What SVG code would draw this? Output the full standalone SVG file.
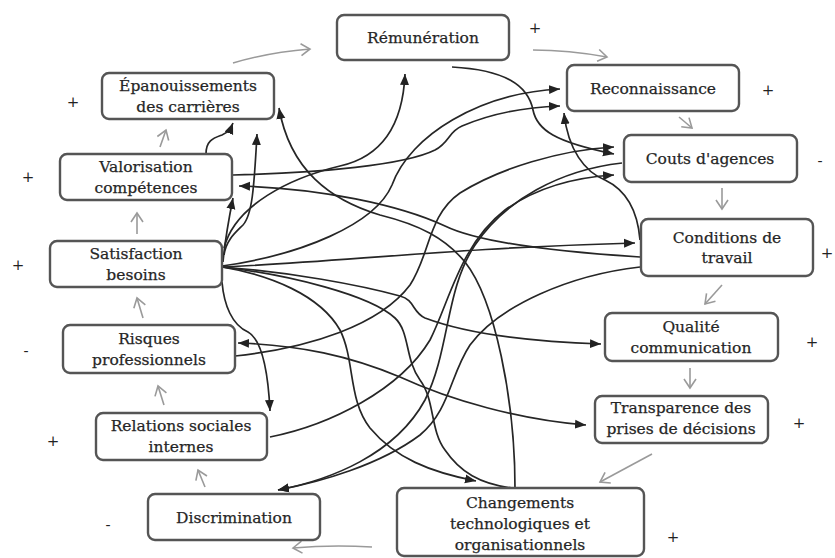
<svg xmlns="http://www.w3.org/2000/svg" width="835" height="558" viewBox="0 0 835 558">
<style>
.box{fill:#fff;stroke:#555;stroke-width:2.4}
.t{font-family:"DejaVu Serif","Liberation Serif",serif;font-size:15.5px;fill:#262626;stroke:#262626;stroke-width:0.25;text-anchor:middle}
.s{font-family:"DejaVu Serif","Liberation Serif",serif;font-size:15px;fill:#222;text-anchor:middle}
.k{fill:none;stroke:#262626;stroke-width:1.7;marker-end:url(#ah)}
.k0{fill:none;stroke:#262626;stroke-width:1.7}
.g{fill:none;stroke:#9a9a9a;stroke-width:1.6;marker-end:url(#ch)}
</style>
<defs>
<marker id="ah" viewBox="-11 -5 11 10" refX="0" refY="0" markerWidth="11" markerHeight="10" markerUnits="userSpaceOnUse" orient="auto-start-reverse">
<path d="M-11,-4.5 L0,0 L-11,4.5 Z" fill="#222"/>
</marker>
<marker id="ch" viewBox="-11 -7 13 14" refX="0" refY="0" markerWidth="13" markerHeight="14" markerUnits="userSpaceOnUse" orient="auto">
<path d="M-9,-6 L0,0 L-9,6" fill="none" stroke="#9a9a9a" stroke-width="1.6"/>
</marker>
</defs>
<rect width="835" height="558" fill="#fff"/>

<g id="connectors">
<!-- gray feedback loop -->
<path class="g" d="M233,63 C260,55 285,51 310,49"/>
<path class="g" d="M533,50 C560,50 585,53 607,57"/>
<path class="g" d="M679,117 L692,128"/>
<path class="g" d="M722,188 L722,209"/>
<path class="g" d="M722,285 L705,304"/>
<path class="g" d="M690,368 L690,388"/>
<path class="g" d="M652,454 L600,482"/>
<path class="g" d="M372,547 C340,545 315,546 293,548"/>
<path class="g" d="M205,487 L198,470"/>
<path class="g" d="M164,405 L158,386"/>
<path class="g" d="M143,318 L137,298"/>
<path class="g" d="M137,234 L137,213"/>
<path class="g" d="M160,147 L166,130"/>

<!-- black links -->
<path class="k" d="M223,262 C225,240 229,218 233,198"/>
<path class="k" d="M224,255 C226,240 236,232 243,225 C252,215 254,190 257,134"/>
<path class="k" d="M206,154 C206,140 214,138 222,135 C229,132 231,128 233,123"/>
<path class="k" d="M224,248 C235,205 290,178 340,166 C385,156 403,120 405,74"/>
<path class="k" d="M222,266 C300,255 375,225 392,185 C410,135 480,93 560,89"/>
<path class="k" d="M233,175 C320,173 405,165 435,150 C450,142 448,132 462,126 C495,112 530,107 560,106"/>
<path class="k" d="M452,67 C505,70 528,85 533,110 C537,130 555,142 614,154"/>
<path class="k" d="M640,240 C638,215 630,192 605,180 C585,172 568,150 564,113"/>
<path class="k" d="M222,267 C340,262 450,248 635,243"/>
<path class="k" d="M640,257 C560,252 480,243 445,226 C400,205 320,188 239,186"/>
<path class="k" d="M515,488 C515,400 495,300 465,262 C445,238 420,225 380,215 C330,200 290,170 279,108"/>
<path class="k" d="M235,356 C310,348 380,325 410,285 C430,255 428,215 460,193 C500,168 560,150 614,147"/>
<path class="k" d="M270,437 C330,425 400,390 430,340 C450,300 460,245 505,210 C540,185 580,177 614,175"/>
<path class="k" d="M622,163 C560,170 505,200 475,245 C445,290 450,350 425,400 C395,455 330,480 278,490"/>
<path class="k" d="M640,267 C570,275 500,305 470,345 C450,375 450,410 420,435 C380,465 320,482 278,490"/>
<path class="k" d="M222,267 C290,272 360,285 400,296 C415,300 412,312 425,318 C470,335 540,342 601,344"/>
<path class="k" style="marker-start:url(#ah)" d="M238,343 C300,345 350,356 400,377 C450,400 520,420 586,425"/>
<path class="k" d="M222,267 C270,275 320,295 340,330 C355,360 348,400 370,428 C395,458 430,472 476,481"/>
<path class="k0" d="M222,267 C290,275 370,295 395,318 C410,332 405,360 420,380 C435,400 430,430 445,450 C460,472 480,484 512,488"/>
<path class="k" d="M222,282 C224,305 232,325 248,332 C262,340 268,370 270,411"/>
</g>

<g id="n-remuneration"><rect class="box" x="337" y="15" width="172" height="45" rx="7"/><text class="t" x="423" y="43">Rémunération</text></g>
<g id="n-epanouissements"><rect class="box" x="102" y="73" width="172" height="46" rx="7"/><text class="t" x="188" y="91">Épanouissements</text><text class="t" x="188" y="112">des carrières</text></g>
<g id="n-valorisation"><rect class="box" x="60" y="154" width="172" height="46" rx="7"/><text class="t" x="146" y="172">Valorisation</text><text class="t" x="146" y="193">compétences</text></g>
<g id="n-satisfaction"><rect class="box" x="50" y="241" width="172" height="46" rx="7"/><text class="t" x="136" y="259">Satisfaction</text><text class="t" x="136" y="280">besoins</text></g>
<g id="n-risques"><rect class="box" x="63" y="325" width="172" height="48" rx="7"/><text class="t" x="149" y="344">Risques</text><text class="t" x="149" y="365">professionnels</text></g>
<g id="n-relations"><rect class="box" x="96" y="413" width="171" height="47" rx="7"/><text class="t" x="181" y="431">Relations sociales</text><text class="t" x="181" y="452">internes</text></g>
<g id="n-discrimination"><rect class="box" x="148" y="494" width="172" height="46" rx="7"/><text class="t" x="234" y="523">Discrimination</text></g>
<g id="n-changements"><rect class="box" x="397" y="488" width="247" height="68" rx="7"/><text class="t" x="520" y="508">Changements</text><text class="t" x="520" y="529">technologiques et</text><text class="t" x="520" y="550">organisationnels</text></g>
<g id="n-reconnaissance"><rect class="box" x="567" y="65" width="172" height="46" rx="7"/><text class="t" x="653" y="94">Reconnaissance</text></g>
<g id="n-couts"><rect class="box" x="624" y="135" width="173" height="47" rx="7"/><text class="t" x="710" y="164">Couts d'agences</text></g>
<g id="n-conditions"><rect class="box" x="641" y="219" width="172" height="57" rx="7"/><text class="t" x="727" y="243">Conditions de</text><text class="t" x="727" y="263">travail</text></g>
<g id="n-qualite"><rect class="box" x="605" y="313" width="173" height="48" rx="7"/><text class="t" x="691" y="332">Qualité</text><text class="t" x="691" y="353">communication</text></g>
<g id="n-transparence"><rect class="box" x="595" y="396" width="173" height="47" rx="7"/><text class="t" x="681" y="413">Transparence des</text><text class="t" x="681" y="434">prises de décisions</text></g>

<g id="signs">
<text class="s" x="535" y="33">+</text>
<text class="s" x="768" y="95">+</text>
<text class="s" x="820" y="166">-</text>
<text class="s" x="827" y="258">+</text>
<text class="s" x="812" y="347">+</text>
<text class="s" x="799" y="428">+</text>
<text class="s" x="673" y="542">+</text>
<text class="s" x="73" y="107">+</text>
<text class="s" x="28" y="182">+</text>
<text class="s" x="18" y="270">+</text>
<text class="s" x="26" y="356">-</text>
<text class="s" x="53" y="446">+</text>
<text class="s" x="108" y="530">-</text>
</g>
</svg>
